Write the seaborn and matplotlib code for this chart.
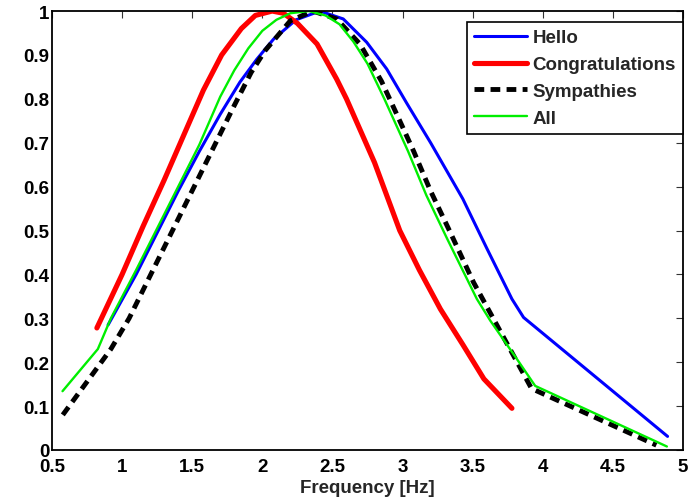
import matplotlib
matplotlib.use("Agg")
import matplotlib.pyplot as plt
import seaborn as sns
import pandas as pd

hello_x = [0.90, 1.10, 1.25, 1.40, 1.55, 1.70, 1.84, 1.96, 2.08, 2.24, 2.41, 2.577, 2.744, 2.887, 3.03, 3.20, 3.43, 3.60, 3.78, 3.863, 4.89]
hello_y = [0.285, 0.40, 0.495, 0.59, 0.68, 0.765, 0.838, 0.89, 0.936, 0.98, 1.0, 0.982, 0.929, 0.868, 0.79, 0.70, 0.572, 0.46, 0.344, 0.302, 0.031]

congr_x = [0.82, 1.0, 1.15, 1.30, 1.45, 1.58, 1.71, 1.85, 1.95, 2.07, 2.15, 2.25, 2.39, 2.53, 2.60, 2.80, 2.98, 3.12, 3.27, 3.43, 3.58, 3.78]
congr_y = [0.278, 0.40, 0.51, 0.615, 0.725, 0.82, 0.90, 0.96, 0.99, 1.0, 0.995, 0.972, 0.925, 0.845, 0.80, 0.655, 0.50, 0.41, 0.321, 0.24, 0.162, 0.095]

symp_x = [0.577, 0.92, 1.05, 1.20, 1.35, 1.50, 1.65, 1.80, 1.92, 2.02, 2.20, 2.36, 2.53, 2.696, 2.85, 2.98, 3.08, 3.20, 3.34, 3.506, 3.92, 4.81]
symp_y = [0.08, 0.23, 0.30, 0.397, 0.494, 0.591, 0.688, 0.785, 0.86, 0.91, 0.978, 1.0, 0.982, 0.925, 0.84, 0.75, 0.68, 0.59, 0.496, 0.382, 0.14, 0.011]

all_x = [0.575, 0.827, 0.92, 1.10, 1.25, 1.40, 1.55, 1.70, 1.80, 1.90, 2.0, 2.10, 2.20, 2.33, 2.45, 2.55, 2.65, 2.75, 2.87, 3.04, 3.17, 3.32, 3.53, 3.625, 3.816, 3.946, 4.885]
all_y = [0.134, 0.23, 0.30, 0.41, 0.505, 0.60, 0.695, 0.805, 0.865, 0.915, 0.955, 0.98, 0.995, 1.0, 0.99, 0.97, 0.93, 0.88, 0.80, 0.68, 0.58, 0.48, 0.344, 0.295, 0.207, 0.146, 0.008]

series_names = ["Hello", "Congratulations", "Sympathies", "All"]

x_ticks = [0.5, 1, 1.5, 2, 2.5, 3, 3.5, 4, 4.5, 5]
x_ticklabels = ["0.5", "1", "1.5", "2", "2.5", "3", "3.5", "4", "4.5", "5"]
y_ticks = [0, 0.1, 0.2, 0.3, 0.4, 0.5, 0.6, 0.7, 0.8, 0.9, 1]
y_ticklabels = ["0", "0.1", "0.2", "0.3", "0.4", "0.5", "0.6", "0.7", "0.8", "0.9", "1"]

sns.set_style("white")
plt.rcParams["font.family"] = ["Liberation Sans", "DejaVu Sans"]
plt.rcParams["font.weight"] = "bold"

FS = 13.5

fig = plt.figure(figsize=(6.98, 5.02), dpi=100)
ax = fig.add_axes([0.0745, 0.1016, 0.904, 0.8744])

data = [
    (hello_x, hello_y, dict(color="#0000ff", linewidth=2.2, linestyle="-")),
    (congr_x, congr_y, dict(color="#ff0000", linewidth=3.7, linestyle="-")),
    (symp_x, symp_y, dict(color="#000000", linewidth=3.5, linestyle=(0, (2.0, 1.3)))),
    (all_x, all_y, dict(color="#00ee00", linewidth=1.7, linestyle="-")),
]
for name, (xs, ys, style) in zip(series_names, data):
    df = pd.DataFrame({"x": xs, "y": ys})
    sns.lineplot(data=df, x="x", y="y", ax=ax, sort=False, estimator=None,
                 label=name, **style)

ax.set_xlim(0.5, 5)
ax.set_ylim(0, 1)
ax.set_xticks(x_ticks)
ax.set_xticklabels(x_ticklabels)
ax.set_yticks(y_ticks)
ax.set_yticklabels(y_ticklabels)
ax.set_xlabel("Frequency [Hz]", fontsize=FS, fontweight="bold", labelpad=3)
ax.set_ylabel("")
ax.tick_params(axis="both", which="both", direction="in", length=5, width=0.8,
               top=True, right=True, labelsize=FS, colors="#333333",
               labelcolor="black")
ax.tick_params(axis="x", pad=6)
ax.tick_params(axis="y", pad=2)
for s in ax.spines.values():
    s.set_visible(True)
    s.set_color("black")
    s.set_linewidth(1.3)

leg = ax.legend(loc="upper right", bbox_to_anchor=(1.0, 0.975), borderaxespad=0,
                fancybox=False, framealpha=1, edgecolor="black",
                prop={"size": FS, "weight": "bold"}, handlelength=2.8,
                handletextpad=0.3, labelspacing=0.52, borderpad=0.38)
leg.get_frame().set_linewidth(1.2)

fig.savefig("out.png", dpi=100)
